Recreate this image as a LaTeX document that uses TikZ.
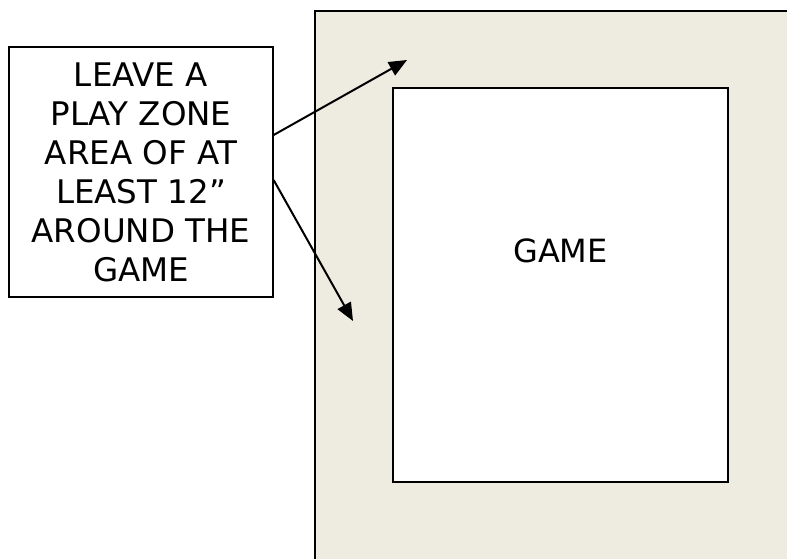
\documentclass[tikz,border=0pt]{standalone}
\usepackage{fontspec}
\setmainfont{DejaVu Sans}
\usetikzlibrary{arrows.meta,positioning}
\definecolor{zonetan}{RGB}{238,236,225}
\tikzset{
    % Note box with the instruction
    notebox/.style={
        draw=black, fill=white, line width=1.3pt,
        minimum width=264pt, minimum height=250pt,
        align=center, inner sep=0pt,
        font=\fontsize{32.5}{39}\selectfont
    },
    % Game board
    boardbox/.style={
        draw=black, fill=white, line width=1.8pt,
        minimum width=335pt, minimum height=394pt, inner sep=0pt
    },
    boardlabel/.style={font=\fontsize{32}{39}\selectfont, inner sep=0pt},
    % Pointer arrows
    pointer/.style={line width=2pt, -{Triangle[length=18pt,width=15pt]}},
    zoneedge/.style={line width=1.5pt, black}
}
\begin{document}
\begin{tikzpicture}[x=1pt,y=-1pt]
  \useasboundingbox (0,0) rectangle (787,559);
  % play zone
  \fill[zonetan] (315,11) rectangle (787,559);
  \draw[zoneedge] (315,559) -- (315,11) -- (787,11);
  \node[boardbox] (board) at (560.5,285) {};
  \node[boardlabel] (game) at (560.5,250.5) {GAME};
  % note
  \node[notebox] (note) at (141,172) {LEAVE A\\PLAY ZONE\\AREA OF AT\\LEAST 12”\\AROUND THE\\GAME};
  \coordinate (topzone) at (407,60);
  \coordinate (sidezone) at (353,321);
  \draw[pointer] ([yshift=37pt]note.east) -- (topzone);
  \draw[pointer] ([yshift=-8pt]note.east) -- (sidezone);
\end{tikzpicture}
\end{document}
